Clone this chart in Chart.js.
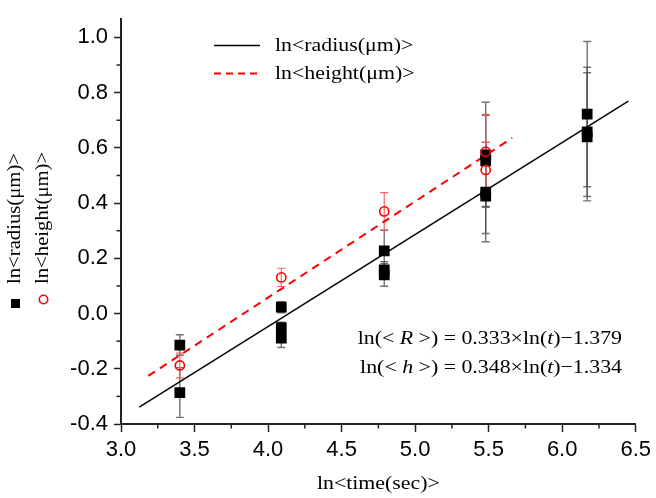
<!DOCTYPE html>
<html><head><meta charset="utf-8">
<script src="https://cdn.jsdelivr.net/npm/chart.js@4.4.1/dist/chart.umd.min.js"></script>
<style>html,body{margin:0;padding:0;background:#fff}#wrap{width:656px;height:498px}</style>
</head><body><div id="wrap"><canvas id="c" width="656" height="498"></canvas></div>
<script>
// ---- data ----
const radiusX   = [3.40, 3.40, 4.09, 4.09, 4.09, 4.79, 4.79, 4.79, 5.48, 5.48, 5.48, 5.48, 6.17, 6.17, 6.17];
const radiusY   = [-0.114, -0.286, 0.023, -0.051, -0.089, 0.227, 0.158, 0.140, 0.575, 0.553, 0.440, 0.425, 0.722, 0.658, 0.640];
const radiusErr = [0.037, 0.090, 0.020, 0.020, 0.034, 0.075, 0.030, 0.041, 0.190, 0.165, 0.180, 0.135, 0.263, 0.234, 0.232];
const heightX   = [3.40, 4.09, 4.79, 5.48, 5.48];
const heightY   = [-0.188, 0.131, 0.370, 0.586, 0.520];
const heightErr = [0.045, 0.033, 0.068, 0.135, 0.100];
const radiusFitX = [3.124, 6.45];
const radiusFitY = [-0.339, 0.769];
const heightFitX = [3.185, 5.66];
const heightFitY = [-0.226, 0.636];
const xTicks = [3.0, 3.5, 4.0, 4.5, 5.0, 5.5, 6.0, 6.5];
const yTicks = [-0.4, -0.2, 0.0, 0.2, 0.4, 0.6, 0.8, 1.0];
const xMinor = [3.25, 3.75, 4.25, 4.75, 5.25, 5.75, 6.25];
const yMinor = [-0.3, -0.1, 0.1, 0.3, 0.5, 0.7, 0.9];
const legendLabels = ['ln<radius(μm)>', 'ln<height(μm)>'];
const xTitle = 'ln<time(sec)>';
const eqR = [['ln(< ', false], ['R', true], [' >) = 0.333×ln(', false], ['t', true], [')−1.379', false]];
const eqH = [['ln(< ', false], ['h', true], [' >) = 0.348×ln(', false], ['t', true], [')−1.334', false]];

const pts = (xs, ys) => xs.map((x, i) => ({x: x, y: ys[i]}));
const SX = 1.15;
const SERIF = '"Liberation Serif", "Times New Roman", serif';

function stretchedText(ctx, text, x, y, size, italic, align) {
  ctx.save();
  ctx.font = (italic ? 'italic ' : '') + size + 'px ' + SERIF;
  const w = ctx.measureText(text).width * SX;
  let sx = x;
  if (align === 'center') sx = x - w / 2;
  ctx.translate(sx, y);
  ctx.scale(SX, 1);
  ctx.textAlign = 'left';
  ctx.textBaseline = 'middle';
  ctx.fillText(text, 0, 0);
  ctx.restore();
  return w;
}
function segWidth(ctx, segs, size) {
  let w = 0;
  segs.forEach(s => { ctx.font = (s[1] ? 'italic ' : '') + size + 'px ' + SERIF; w += ctx.measureText(s[0]).width * SX; });
  return w;
}

const decor = {
  id: 'decor',
  beforeDatasetsDraw(chart) {
    const ctx = chart.ctx, xs = chart.scales.x, ys = chart.scales.y;
    const bars = (X, Y, E, color, lw) => {
      ctx.save(); ctx.strokeStyle = color; ctx.lineWidth = lw;
      X.forEach((x, i) => {
        const px = xs.getPixelForValue(x);
        const t = ys.getPixelForValue(Y[i] + E[i]), b = ys.getPixelForValue(Y[i] - E[i]);
        ctx.beginPath();
        ctx.moveTo(px, t); ctx.lineTo(px, b);
        ctx.moveTo(px - 4, t); ctx.lineTo(px + 4, t);
        ctx.moveTo(px - 4, b); ctx.lineTo(px + 4, b);
        ctx.stroke();
      });
      ctx.restore();
    };
    bars(radiusX, radiusY, radiusErr, 'rgba(80,80,80,0.8)', 1.4);
    bars(heightX, heightY, heightErr, 'rgba(255,80,80,0.9)', 1.2);
  },
  afterDraw(chart) {
    const ctx = chart.ctx, xs = chart.scales.x, ys = chart.scales.y, a = chart.chartArea;
    // minor ticks
    ctx.save(); ctx.strokeStyle = '#222'; ctx.lineWidth = 1.5;
    xMinor.forEach(v => { const p = xs.getPixelForValue(v); ctx.beginPath(); ctx.moveTo(p, a.bottom); ctx.lineTo(p, a.bottom + 4.5); ctx.stroke(); });
    yMinor.forEach(v => { const p = ys.getPixelForValue(v); ctx.beginPath(); ctx.moveTo(a.left, p); ctx.lineTo(a.left - 4.5, p); ctx.stroke(); });
    ctx.restore();
    // in-plot legend
    ctx.save();
    ctx.strokeStyle = '#000'; ctx.lineWidth = 1.5;
    ctx.beginPath(); ctx.moveTo(214, 45.5); ctx.lineTo(260, 45.5); ctx.stroke();
    ctx.strokeStyle = '#ff0000'; ctx.lineWidth = 2; ctx.setLineDash([7, 5]);
    ctx.beginPath(); ctx.moveTo(214, 73.5); ctx.lineTo(260, 73.5); ctx.stroke();
    ctx.setLineDash([]);
    ctx.fillStyle = '#000';
    stretchedText(ctx, legendLabels[0], 275, 46, 19, false);
    stretchedText(ctx, legendLabels[1], 275, 74, 19, false);
    // equations
    const eqs = [[eqR, 339], [eqH, 368]];
    eqs.forEach(e => {
      let x = 622 - segWidth(ctx, e[0], 19);
      e[0].forEach(s => { x += stretchedText(ctx, s[0], x, e[1], 19, s[1]); });
    });
    // x title
    stretchedText(ctx, xTitle, (a.left + a.right) / 2, 484, 19, false, 'center');
    // y titles (rotated)
    ctx.save();
    ctx.translate(15, 284); ctx.rotate(-Math.PI / 2);
    stretchedText(ctx, legendLabels[0], 0, 0, 18, false);
    ctx.restore();
    ctx.save();
    ctx.translate(43, 284); ctx.rotate(-Math.PI / 2);
    stretchedText(ctx, legendLabels[1], 0, 0, 18, false);
    ctx.restore();
    ctx.fillStyle = '#000'; ctx.fillRect(11, 299, 9, 9);
    ctx.strokeStyle = '#ff0000'; ctx.lineWidth = 1.6;
    ctx.beginPath(); ctx.arc(43.5, 299.5, 4.2, 0, Math.PI * 2); ctx.stroke();
    ctx.restore();
  }
};

new Chart(document.getElementById('c'), {
  type: 'scatter',
  data: {
    datasets: [
      { label: 'height', data: pts(heightX, heightY), pointStyle: 'circle', pointRadius: 4.6, pointBorderWidth: 1.6,
        borderColor: '#ff0000', backgroundColor: 'rgba(255,255,255,0)', pointBackgroundColor: 'rgba(255,255,255,0)', order: 0 },
      { label: 'radius', data: pts(radiusX, radiusY), pointStyle: 'rect', pointRadius: 7.6, pointBorderWidth: 0,
        borderColor: '#000', backgroundColor: '#000', order: 1 },
      { label: legendLabels[1], data: pts(heightFitX, heightFitY), showLine: true, pointRadius: 0,
        borderColor: '#ff0000', borderWidth: 2, borderDash: [8, 6], order: 2 },
      { label: legendLabels[0], data: pts(radiusFitX, radiusFitY), showLine: true, pointRadius: 0,
        borderColor: '#000', borderWidth: 1.5, order: 3 }
    ]
  },
  options: {
    responsive: false, animation: false, events: [],
    layout: { padding: { left: 0, right: 18, top: 15, bottom: 0 } },
    plugins: { legend: { display: false }, tooltip: { enabled: false } },
    scales: {
      x: {
        type: 'linear', min: 3.0, max: 6.5,
        afterBuildTicks: s => { s.ticks = xTicks.map(v => ({ value: v })); },
        afterFit: s => { s.height = 74; },
        grid: { display: true, drawOnChartArea: false, drawTicks: true, tickLength: 8, tickColor: '#222', tickWidth: 1.5 },
        border: { display: true, color: '#222', width: 2 },
        ticks: { color: '#000', padding: 5, maxRotation: 0, autoSkip: false,
          font: { family: '"Liberation Sans", Arial, sans-serif', size: 22 },
          callback: v => Number(v).toFixed(1) }
      },
      y: {
        type: 'linear', min: -0.4, max: 1.066,
        afterBuildTicks: s => { s.ticks = yTicks.map(v => ({ value: v })); },
        afterFit: s => { s.width = 121; },
        grid: { display: true, drawOnChartArea: false, drawTicks: true, tickLength: 7, tickColor: '#222', tickWidth: 1.5 },
        border: { display: true, color: '#222', width: 2 },
        ticks: { color: '#000', padding: 6, autoSkip: false,
          font: { family: '"Liberation Sans", Arial, sans-serif', size: 22 },
          callback: v => Number(v).toFixed(1) }
      }
    }
  },
  plugins: [decor]
});
</script></body></html>
